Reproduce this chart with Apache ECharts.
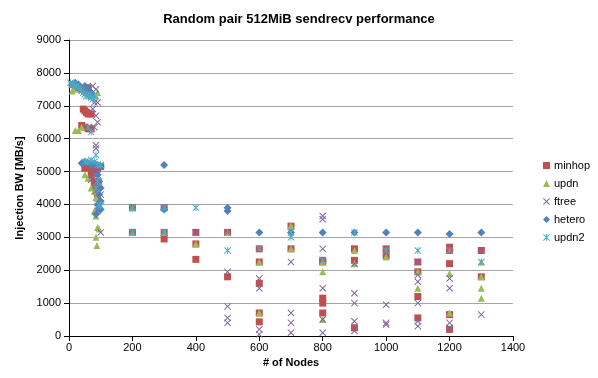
<!DOCTYPE html>
<html><head><meta charset="utf-8">
<script src="https://cdn.jsdelivr.net/npm/echarts@6/dist/echarts.min.js"></script>
<style>html,body{margin:0;padding:0;background:#fff}#c{width:598px;height:378px}</style>
</head><body><div id="c"></div>
<script>
const seriesNames = ['minhop','updn','ftree','hetero','updn2'];
const xTicks = [0,200,400,600,800,1000,1200,1400];
const yTicks = [0,1000,2000,3000,4000,5000,6000,7000,8000,9000];

const minhop = [[10,7650],[20,7600],[30,7550],[40,7500],[50,7450],[55,7400],[60,7550],[70,7300],[45,6900],[50,6850],[55,6800],[60,6750],[70,6750],[40,6400],[50,6350],[60,6300],[70,6300],[50,5100],[60,5150],[70,5100],[80,5050],[90,5100],[100,5150],[70,4900],[80,4700],[85,4500],[90,4200],[80,4600],
[200,3900],[200,3150],[300,3900],[300,3150],[300,2950],[400,3150],[400,2800],[400,2330],[500,3150],[500,1800],[600,2650],[600,2250],[600,1600],[600,700],[600,430],[700,3340],[700,2650],[800,2300],[800,2250],[800,1150],[800,1000],[800,700],[900,2650],[900,2300],[900,250],[1000,2650],[1000,2450],[1100,2250],[1100,1950],[1100,1200],[1100,550],[1200,2700],[1200,2600],[1200,2200],[1200,650],[1200,200],[1300,2600],[1300,1800]];

const updn = [[10,7450],[15,7500],[30,6250],[40,6350],[20,6250],[90,7400],[85,7300],[50,4900],[60,4800],[70,4500],[80,4400],[85,4200],[90,4050],[85,3650],[80,3800],[90,3300],[95,3250],[85,3000],[88,2750],
[200,3900],[200,3150],[300,3150],[400,2800],[500,3150],[600,2250],[600,700],[700,3350],[700,2650],[800,2250],[800,1950],[800,500],[900,2600],[900,2200],[1000,2400],[1100,1950],[1100,1450],[1200,1900],[1200,700],[1300,2250],[1300,1800],[1300,1450],[1300,1150]];

const ftree = [[75,7600],[85,7500],[80,7100],[90,7100],[75,6900],[85,6700],[90,6500],[80,6350],[85,5800],[85,5700],[90,5200],[80,5000],[70,4750],[90,4900],[95,4700],[85,4400],[100,4300],[95,3900],[100,3150],[90,3800],
[200,3900],[200,3150],[300,3900],[300,3150],[400,3150],[500,3150],[500,1950],[500,900],[500,550],[500,400],[600,1750],[600,1450],[600,200],[600,50],[700,2250],[700,700],[700,400],[700,100],[800,3650],[800,3550],[800,2650],[800,1450],[800,500],[800,100],[900,2200],[900,1300],[900,1000],[900,450],[900,150],[1000,950],[1000,400],[1000,350],[1100,2250],[1100,1850],[1100,1650],[1100,1000],[1100,450],[1100,300],[1200,1750],[1200,1450],[1200,400],[1200,250],[1300,2600],[1300,650]];

const hetero = [[20,7700],[30,7650],[50,7600],[60,7500],[70,7400],[40,5250],[50,5300],[60,5250],[70,5200],[80,5250],[90,5200],[100,5150],[90,4900],[95,4700],[100,4500],[95,4300],[100,4100],[90,4000],[95,3900],[100,3850],[85,3700],
[300,5200],[300,3850],[500,3900],[500,3800],[600,3150],[700,3150],[800,3150],[900,3150],[1000,3150],[1100,3150],[1200,3100],[1300,3150]];

const updn2 = [[5,7700],[10,7650],[15,7650],[20,7600],[25,7600],[30,7550],[35,7500],[40,7450],[45,7400],[50,7350],[55,7300],[60,7300],[65,7350],[70,7250],[75,7200],[80,7300],[60,6350],[70,6200],[85,5500],[50,5300],[60,5300],[70,5350],[80,5300],[90,5200],[100,5200],[90,4700],[85,4500],[95,4000],[100,3950],
[200,3900],[200,3150],[300,3900],[300,3150],[400,3900],[500,2600],[600,2650],[700,3150],[700,3000],[800,2300],[900,3150],[1000,2600],[1100,2600],[1200,2600],[1300,2250]];

const colors = ['#C0504D','#9BBB59','#8064A2','#4F81BD','#4BACC6'];
const xPath = 'path://M0,1L1,0L5,4L9,0L10,1L6,5L10,9L9,10L5,6L1,10L0,9L4,5Z';
const starPath = 'path://M0,1L1,0L5,4L9,0L10,1L6,5L10,9L9,10L5,6L1,10L0,9L4,5ZM4.4,0L5.6,0L5.6,10L4.4,10Z';
const symbols = ['rect','triangle',xPath,'diamond',starPath];
const sizes = [7,7,7,8,7];
const datas = [minhop,updn,ftree,hetero,updn2];

const font = 'Liberation Sans';
const chart = echarts.init(document.getElementById('c'), null, {renderer:'canvas'});
chart.setOption({
  animation:false,
  backgroundColor:'#fff',
  title:{text:'Random pair 512MiB sendrecv performance',left:'center',top:8,
    textStyle:{fontFamily:font,fontSize:13,fontWeight:'bold',color:'#000'}},
  legend:{orient:'vertical',left:538,top:155,itemWidth:7,itemHeight:7,itemGap:7,
    textStyle:{fontFamily:font,fontSize:11,color:'#000',padding:[0,0,0,-1]},
    data:seriesNames.map((n,i)=>({name:n,icon:symbols[i]}))},
  grid:{left:69,right:85,top:40,bottom:42},
  xAxis:{type:'value',min:0,max:1400,interval:200,
    name:'# of Nodes',nameLocation:'middle',nameGap:19,
    nameTextStyle:{fontFamily:font,fontSize:11,fontWeight:'bold',color:'#000'},
    axisLine:{lineStyle:{color:'#000',width:1}},
    axisTick:{show:true,length:5,lineStyle:{color:'#000'}},
    axisLabel:{fontFamily:font,fontSize:11,color:'#000',margin:6,formatter:v=>String(v)},
    splitLine:{show:false}},
  yAxis:{type:'value',min:0,max:9000,interval:1000,
    name:'Injection BW [MB/s]',nameLocation:'middle',nameGap:38,nameRotate:90,
    nameTextStyle:{fontFamily:font,fontSize:11,fontWeight:'bold',color:'#000'},
    axisLine:{show:true,lineStyle:{color:'#000',width:1}},
    axisTick:{show:true,length:5,lineStyle:{color:'#000'}},
    axisLabel:{fontFamily:font,fontSize:11,color:'#000',margin:8,formatter:v=>String(v)},
    splitLine:{show:true,lineStyle:{color:'#A6A6A6',width:1}}},
  series:seriesNames.map((n,i)=>({
    name:n,type:'scatter',data:datas[i],symbol:symbols[i],symbolSize:sizes[i],
    itemStyle:{color:colors[i],opacity:1}
  }))
});
</script></body></html>
